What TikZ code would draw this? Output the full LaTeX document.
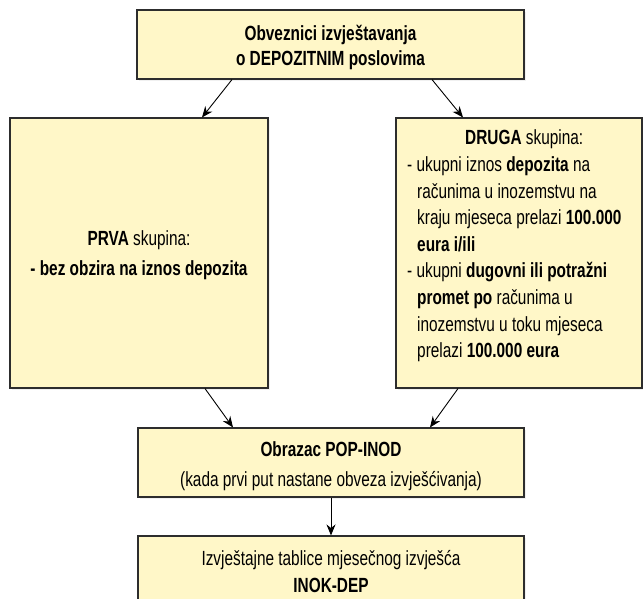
\documentclass[tikz,border=0pt]{standalone}
\usepackage{fontspec}
\setmainfont{Liberation Sans}[FakeStretch=0.75]
\usetikzlibrary{arrows.meta,shadows}
\definecolor{boxfill}{RGB}{255,247,200}
\definecolor{boxline}{RGB}{45,45,45}
\begin{document}
\begin{tikzpicture}[x=1pt,y=1pt,
  box/.style={draw=boxline, line width=1.1pt, fill=boxfill, inner sep=0pt,
    drop shadow={opacity=0.12, shadow xshift=1.5pt, shadow yshift=-1.5pt}},
  lbl/.style={inner sep=0pt, align=center},
  arr/.style={-{Stealth[length=11pt,width=9pt]}, line width=0.9pt, draw=black}]
\clip (0,0) rectangle (643,-598);
\node[box, minimum width=387pt, minimum height=69pt] (top) at (330.5,-44.5) {};
\node[lbl, font=\fontsize{20.5}{25}\selectfont] (toptext) at (330.5,-47)
  {\textbf{Obveznici izvještavanja}\\\textbf{o DEPOZITNIM poslovima}};
\node[box, minimum width=258pt, minimum height=270pt] (left) at (139,-253) {};
\node[lbl, font=\fontsize{20.5}{30}\selectfont] (lefttext) at (139,-255.5)
  {\textbf{PRVA} skupina:\\\textbf{- bez obzira na iznos depozita}};
\node[box, minimum width=246pt, minimum height=270pt] (right) at (519,-253) {};
\node[anchor=west, inner sep=0pt, align=left, font=\fontsize{20.5}{26.6}\selectfont] (rtext) at (407,-246)
  {\makebox[234pt][c]{\textbf{DRUGA} skupina:}\\
   - ukupni iznos \textbf{depozita} na\\
   \hspace*{10pt}računima u inozemstvu na\\
   \hspace*{10pt}kraju mjeseca prelazi \textbf{100.000}\\
   \hspace*{10pt}\textbf{eura i/ili}\\
   - ukupni \textbf{dugovni ili potražni}\\
   \hspace*{10pt}\textbf{promet po} računima u\\
   \hspace*{10pt}inozemstvu u toku mjeseca\\
   \hspace*{10pt}prelazi \textbf{100.000 eura}};
\node[box, minimum width=386pt, minimum height=69pt] (mid) at (331,-462.5) {};
\node[lbl, font=\fontsize{20.5}{30}\selectfont] (midtext) at (331,-466.5)
  {\textbf{Obrazac POP-INOD}\\(kada prvi put nastane obveza izvješćivanja)};
\node[box, minimum width=386pt, minimum height=90pt] (bot) at (331,-581) {};
\node[lbl, font=\fontsize{20.5}{27}\selectfont] (bottext) at (331,-571.5)
  {Izvještajne tablice mjesečnog izvješća\\\textbf{INOK-DEP}};
\draw[arr] ([xshift=-98.5pt]top.south) -- ([xshift=63pt]left.north);
\draw[arr] ([xshift=101.5pt]top.south) -- ([xshift=-56pt]right.north);
\draw[arr] ([xshift=66pt]left.south) -- ([xshift=-98pt]mid.north);
\draw[arr] ([xshift=-61pt]right.south) -- ([xshift=99pt]mid.north);
\draw[arr] (mid.south) -- (bot.north);
\end{tikzpicture}
\end{document}
